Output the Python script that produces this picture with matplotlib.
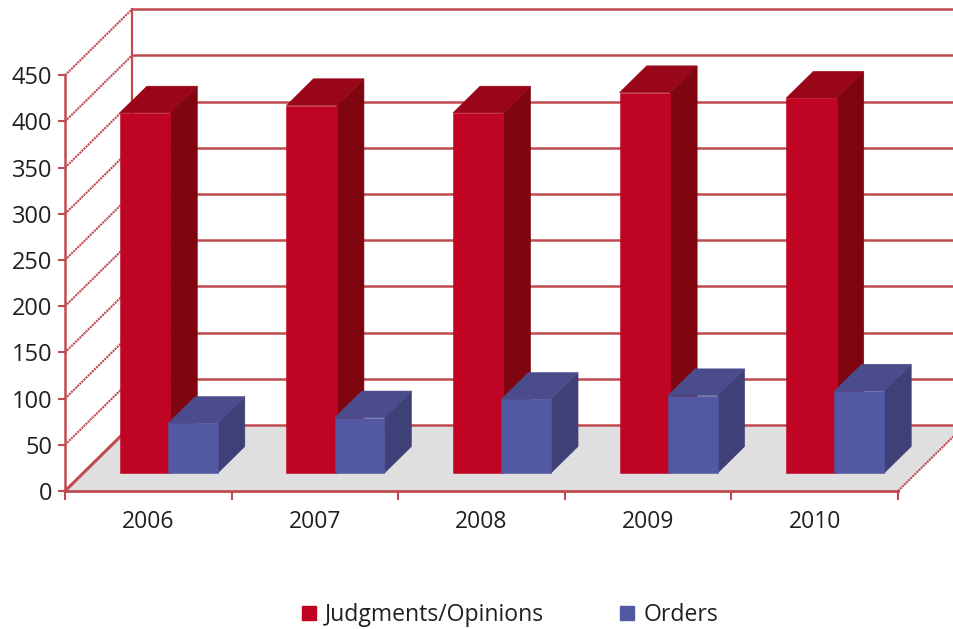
import matplotlib.pyplot as plt
from matplotlib.patches import Patch

plt.rcParams['font.family'] = ['Open Sans', 'DejaVu Sans']

years = ['2006', '2007', '2008', '2009', '2010']
judgments = [390, 398, 390, 412, 406]
orders = [54, 60, 80, 84, 89]
value_ticks = [0, 50, 100, 150, 200, 250, 300, 350, 400, 450]

RED = '#c00424'
RED_TOP = '#9a0619'
RED_SIDE = '#7f0611'
BLUE = '#5358a3'
BLUE_TOP = '#4a4c8b'
BLUE_SIDE = '#3f4078'
LINE = '#c04a50'
TEXT = '#231f20'

#Depth of the 3D box in data units (67 px across, 66 px up)
DEPTH_X = 67 / 166.6
DEPTH_Y = 66 / 0.924
BAR_START = 0.27
BAR_DEPTH = 0.405
BAR_W = 0.298


def proj(x, v, d):
    return x + d * DEPTH_X, v + d * DEPTH_Y


def draw_bar(x, v, w, front, top, side):
    d0 = BAR_START
    d1 = BAR_START + BAR_DEPTH
    pts = [proj(x + w, 0, d0), proj(x + w, v, d0), proj(x + w, v, d1), proj(x + w, 0, d1)]
    ax.fill(*zip(*pts), fc=side, ec=side, lw=0.4, zorder=5, clip_on=False)
    pts = [proj(x, v, d0), proj(x + w, v, d0), proj(x + w, v, d1), proj(x, v, d1)]
    ax.fill(*zip(*pts), fc=top, ec=top, lw=0.4, zorder=5, clip_on=False)
    x0, b0 = proj(x, 0, d0)
    ax.bar(x0, v, w, bottom=b0, align='edge', fc=front, ec=front, lw=0.4, zorder=5, clip_on=False)


fig = plt.figure(figsize=(9.54, 6.29), dpi=100)
ax = fig.add_axes([65 / 954, 1 - 491 / 629, 833 / 954, 485 / 629])
ax.set_xlim(0, 5)
ax.set_ylim(0, 525)
for s in ax.spines.values():
    s.set_visible(False)

#Floor
n = len(years)
floor = [proj(0, 0, 0), proj(n, 0, 0), proj(n, 0, 1), proj(0, 0, 1)]
ax.fill(*zip(*floor), color='#dfdfdf', lw=0, zorder=1, clip_on=False)

#Back wall grid and left wall diagonals
for v in value_ticks:
    x0, y0 = proj(0, v, 1)
    x1, y1 = proj(n, v, 1)
    ax.plot([x0, x1], [y0, y1], color=LINE, lw=1.8, zorder=2, clip_on=False)
    xa, ya = proj(0, v, 0)
    ax.plot([xa, x0], [ya, y0], color=LINE, lw=2.2 if v == 0 else 1.5,
            ls='-' if v == 0 else (0, (1.0, 0.4)), zorder=2, clip_on=False)
x0, y0 = proj(0, 0, 1)
x1, y1 = proj(0, 450, 1)
ax.plot([x0, x1], [y0, y1], color=LINE, lw=1.6, zorder=2, clip_on=False)
x0, y0 = proj(0, 0, 0)
x1, y1 = proj(0, 450, 0)
ax.plot([x0, x1], [y0, y1], color=LINE, lw=1.8, zorder=3, clip_on=False)
ax.plot([0, n], [0, 0], color=LINE, lw=2, zorder=3, clip_on=False)
xa, ya = proj(n, 0, 0)
xb, yb = proj(n, 0, 1)
ax.plot([xa, xb], [ya, yb], color=LINE, lw=1.5, ls=(0, (1.0, 0.4)), zorder=2, clip_on=False)

#Bars
for i in range(n):
    x = i + 0.22
    draw_bar(x, judgments[i], BAR_W + 0.005, RED, RED_TOP, RED_SIDE)
    draw_bar(x + 0.29, orders[i], BAR_W, BLUE, BLUE_TOP, BLUE_SIDE)

ax.set_yticks(value_ticks)
ax.set_xticks(range(n + 1))
ax.set_xticklabels([])
ax.set_xticks([i + 0.5 for i in range(n)], years, minor=True)
ax.tick_params(axis='x', which='major', length=6.5, width=1.5, color=LINE)
ax.tick_params(axis='x', which='minor', length=0, pad=14, labelsize=16.5, labelcolor=TEXT)
ax.tick_params(axis='y', length=5, width=1.5, color=LINE, pad=4, labelsize=17, labelcolor=TEXT)

handles = [Patch(color=RED, label='Judgments/Opinions'), Patch(color=BLUE, label='Orders')]
fig.legend(handles=handles, ncol=2, frameon=False, loc='center', bbox_to_anchor=(510 / 954, 1 - 615 / 629),
           fontsize=16.6, labelcolor=TEXT, handlelength=0.6, handleheight=0.6, handletextpad=0.4,
           columnspacing=3.32)

fig.savefig('out.png', dpi=100)
